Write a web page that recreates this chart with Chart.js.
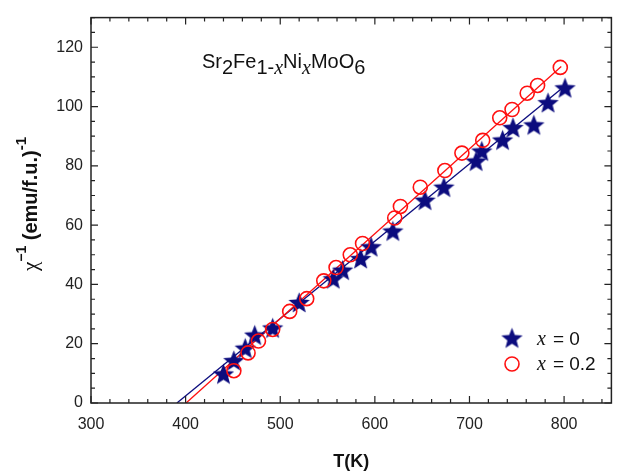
<!DOCTYPE html>
<html>
<head>
<meta charset="utf-8">
<script src="https://cdn.jsdelivr.net/npm/chart.js@4"></script>
<style>
  body { margin: 0; background: #fff; }
  canvas { display: block; }
</style>
</head>
<body>
<canvas id="chiChart" width="620" height="474"></canvas>
<script>
// x = 0 (stars)
const tempX0 = [440, 451, 463, 473, 492, 520, 556, 566, 585, 596, 619, 653, 673, 707, 713, 735, 746, 768, 783, 801];
const chiX0  = [9.8, 14.3, 18.5, 22.9, 25.3, 33.9, 41.9, 44.8, 48.7, 52.7, 58.0, 68.4, 72.8, 81.6, 85.0, 88.7, 92.9, 93.8, 101.3, 106.3];
// x = 0.2 (circles)
const tempX02 = [451, 466, 477, 492, 510, 528, 546, 559, 574, 587, 621, 627, 648, 674, 692, 714, 732, 745, 761, 772, 796];
const chiX02  = [10.9, 16.9, 20.9, 24.8, 30.9, 35.2, 41.2, 45.7, 50.0, 53.8, 62.4, 66.3, 72.8, 78.4, 84.3, 88.6, 96.2, 99.0, 104.5, 107.1, 113.2];
// linear fits (end points)
const fitTempX0 = [390.8, 802];
const fitChiX0  = [0, 107.3];
const fitTempX02 = [400.5, 797];
const fitChiX02  = [0, 113.5];

const xTicks = [300, 400, 500, 600, 700, 800];
const yTicks = [0, 20, 40, 60, 80, 100, 120];

const navy = '#0c0c7e';
const red = '#ff1010';
const sans = '"Liberation Sans", Arial, sans-serif';
const serif = '"Liberation Serif", "Times New Roman", serif';

function pts(xs, ys) { return xs.map((x, i) => ({ x: x, y: ys[i] })); }

// filled five point star marker
function makeStar(size, color) {
    const c = document.createElement('canvas');
    c.width = size; c.height = size;
    const g = c.getContext('2d');
    const cx = size / 2, cy = size / 2 + 0.9, R = size / 2 - 0.3, r = R * 0.43;
    g.beginPath();
    for (let i = 0; i < 10; i++) {
        const a = -Math.PI / 2 + i * Math.PI / 5;
        const rad = i % 2 === 0 ? R : r;
        g.lineTo(cx + rad * Math.cos(a), cy + rad * Math.sin(a));
    }
    g.closePath();
    g.fillStyle = color;
    g.fill();
    return c;
}
const starImg = makeStar(23, navy);

// frame, inward ticks, titles and legend
const decorPlugin = {
    id: 'decor',
    afterDraw(chart) {
        const { ctx, chartArea: a, scales: { x, y } } = chart;
        ctx.save();
        ctx.strokeStyle = '#222';
        ctx.lineWidth = 1.5;
        ctx.strokeRect(a.left, a.top, a.right - a.left, a.bottom - a.top);
        ctx.lineWidth = 1.2;
        ctx.beginPath();
        for (let v = 300; v <= 850; v += 20) {
            const px = x.getPixelForValue(v);
            const len = v % 100 === 0 ? 7 : 4;
            ctx.moveTo(px, a.bottom); ctx.lineTo(px, a.bottom - len);
            ctx.moveTo(px, a.top); ctx.lineTo(px, a.top + len);
        }
        for (let v = 0; v <= 130; v += 5) {
            const py = y.getPixelForValue(v);
            const len = v % 20 === 0 ? 7 : 4;
            ctx.moveTo(a.left, py); ctx.lineTo(a.left + len, py);
            ctx.moveTo(a.right, py); ctx.lineTo(a.right - len, py);
        }
        ctx.stroke();

        ctx.fillStyle = '#111';
        // x title
        ctx.font = 'bold 18px ' + sans;
        ctx.textAlign = 'center';
        ctx.textBaseline = 'alphabetic';
        ctx.fillText('T(K)', (a.left + a.right) / 2, 467);

        // y title, rotated
        ctx.save();
        ctx.translate(37, 204);
        ctx.rotate(-Math.PI / 2);
        const parts = [
            { t: 'χ', f: '21px ' + serif, dy: 0 },
            { t: '−1', f: 'bold 14px ' + sans, dy: -11 },
            { t: ' (emu/f.u.)', f: 'bold 20px ' + sans, dy: 0 },
            { t: '-1', f: 'bold 15px ' + sans, dy: -11 }
        ];
        let w = 0;
        parts.forEach(p => { ctx.font = p.f; w += ctx.measureText(p.t).width; });
        let cx = -w / 2;
        ctx.textAlign = 'left';
        parts.forEach(p => {
            ctx.font = p.f;
            ctx.fillText(p.t, cx, p.dy);
            cx += ctx.measureText(p.t).width;
        });
        ctx.restore();

        // compound formula
        const f = [
            { t: 'Sr', f: '20px ' + sans, dy: 0 },
            { t: '2', f: '20px ' + sans, dy: 6 },
            { t: 'Fe', f: '20px ' + sans, dy: 0 },
            { t: '1-', f: '20px ' + sans, dy: 6 },
            { t: 'x', f: 'italic 20px ' + serif, dy: 6 },
            { t: 'Ni', f: '20px ' + sans, dy: 0 },
            { t: 'x', f: 'italic 20px ' + serif, dy: 6 },
            { t: 'MoO', f: '20px ' + sans, dy: 0 },
            { t: '6', f: '20px ' + sans, dy: 6 }
        ];
        let fx = 202;
        ctx.textAlign = 'left';
        f.forEach(p => {
            ctx.font = p.f;
            ctx.fillText(p.t, fx, 68 + p.dy);
            fx += ctx.measureText(p.t).width;
        });

        // legend
        ctx.drawImage(starImg, 512 - starImg.width / 2, 338 - starImg.height / 2);
        ctx.beginPath();
        ctx.strokeStyle = red;
        ctx.lineWidth = 1.6;
        ctx.arc(512, 364, 7, 0, Math.PI * 2);
        ctx.stroke();
        const legendRows = [['= 0', 345], ['= 0.2', 370]];
        legendRows.forEach(r => {
            ctx.fillStyle = '#111';
            ctx.font = 'italic 20px ' + serif;
            ctx.fillText('x', 537, r[1]);
            const xw = ctx.measureText('x ').width;
            ctx.font = '19px ' + sans;
            ctx.fillText(r[0], 537 + xw + 2, r[1]);
        });
        ctx.restore();
    }
};

const ctx = document.getElementById('chiChart').getContext('2d');
new Chart(ctx, {
    type: 'scatter',
    data: {
        datasets: [
            {
                label: 'x = 0',
                data: pts(tempX0, chiX0),
                pointStyle: starImg,
                order: 1
            },
            {
                label: 'x = 0.2',
                data: pts(tempX02, chiX02),
                pointStyle: 'circle',
                pointRadius: 7,
                pointBorderWidth: 1.6,
                pointBorderColor: red,
                pointBackgroundColor: 'rgba(0,0,0,0)',
                order: 0
            },
            {
                label: 'fit x = 0',
                data: pts(fitTempX0, fitChiX0),
                showLine: true,
                borderColor: navy,
                borderWidth: 1.3,
                pointRadius: 0,
                order: 3
            },
            {
                label: 'fit x = 0.2',
                data: pts(fitTempX02, fitChiX02),
                showLine: true,
                borderColor: red,
                borderWidth: 1.3,
                pointRadius: 0,
                order: 2
            }
        ]
    },
    options: {
        responsive: false,
        animation: false,
        layout: { padding: { top: 10, right: 1, left: 0, bottom: 0 } },
        plugins: {
            legend: { display: false },
            tooltip: { enabled: false }
        },
        scales: {
            x: {
                type: 'linear', min: 300, max: 850,
                grid: { display: false, drawTicks: false },
                border: { display: false },
                afterBuildTicks: s => { s.ticks = xTicks.map(v => ({ value: v })); },
                afterFit: s => { s.height = 71; },
                ticks: { color: '#222', padding: 12, font: { family: sans, size: 16 } }
            },
            y: {
                type: 'linear', min: 0, max: 130,
                grid: { display: false, drawTicks: false },
                border: { display: false },
                afterBuildTicks: s => { s.ticks = yTicks.map(v => ({ value: v })); },
                afterFit: s => { s.width = 91; },
                ticks: { color: '#222', padding: 8, font: { family: sans, size: 16 } }
            }
        }
    },
    plugins: [decorPlugin]
});
</script>
</body>
</html>
